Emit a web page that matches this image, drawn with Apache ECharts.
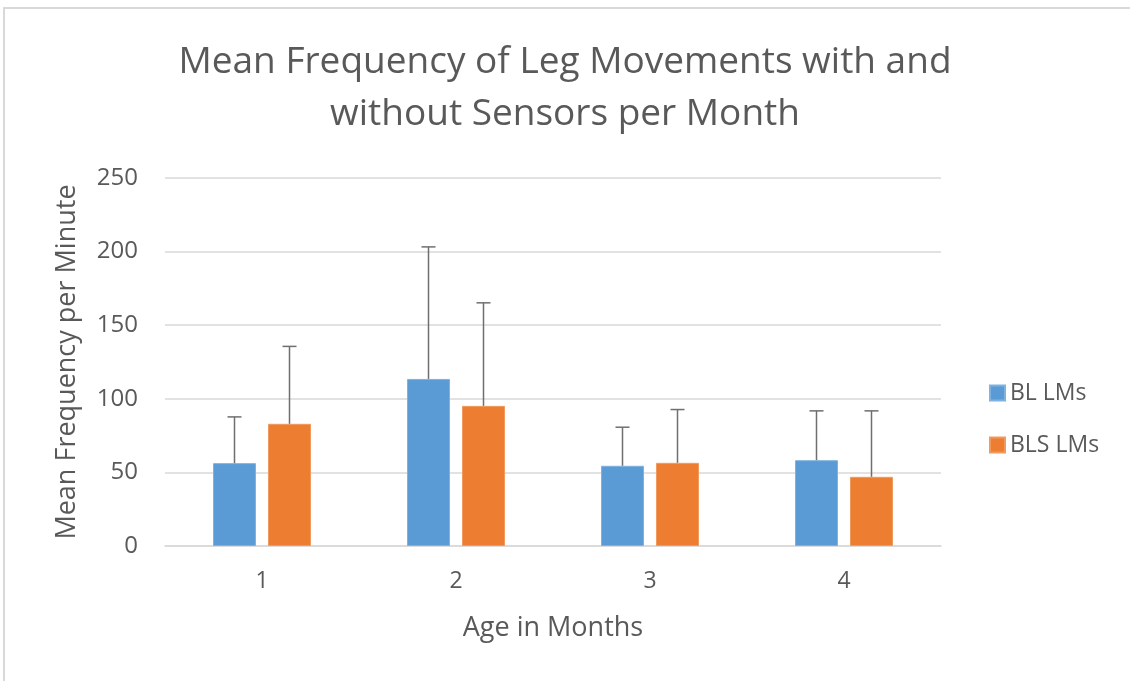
<!DOCTYPE html>
<html>
<head>
<meta charset="utf-8">
<script src="https://cdn.jsdelivr.net/npm/echarts@6/dist/echarts.min.js"></script>
<style>
html, body { margin: 0; padding: 0; background: #fff; }
#main { width: 1130px; height: 681px; }
</style>
</head>
<body>
<div id="main"></div>
<script>
var months = ['1', '2', '3', '4'];
var blMeans = [56.3, 113.5, 54.5, 58.3];
var blErr = [31.4, 89.7, 26.2, 33.5];
var blsMeans = [83.0, 95.2, 56.5, 47.0];
var blsErr = [52.6, 70.0, 36.2, 44.8];
var yTicks = [0, 250, 50];

var font = "'Open Sans', sans-serif";
var textGrey = '#595959';
var barW = 43;
var barGapPx = 12;

var myChart = echarts.init(document.getElementById('main'));

// error bar (upper only), shifted to sit over its bar
function errorBar(means, errs, shift) {
	return {
		type: 'custom',
		silent: true,
		z: 5,
		data: means.map(function (m, i) { return [i, m, m + errs[i]]; }),
		renderItem: function (params, api) {
			var base = api.coord([api.value(0), api.value(1)]);
			var top = api.coord([api.value(0), api.value(2)]);
			var x = base[0] + shift;
			var half = 7;
			return {
				type: 'group',
				children: [{
					type: 'line',
					shape: { x1: x, y1: base[1], x2: x, y2: top[1] },
					style: { stroke: '#6f6f6f', lineWidth: 1.5 }
				}, {
					type: 'line',
					shape: { x1: x - half, y1: top[1], x2: x + half, y2: top[1] },
					style: { stroke: '#6f6f6f', lineWidth: 1.5 }
				}]
			};
		}
	};
}

var shift = (barW + barGapPx) / 2;

var option = {
	animation: false,
	backgroundColor: '#fff',
	textStyle: { fontFamily: font },
	graphic: [{
		type: 'rect',
		shape: { x: 4, y: 8, width: 1200, height: 700 },
		style: { fill: 'none', stroke: '#d9d9d9', lineWidth: 2 },
		silent: true
	}],
	title: {
		text: 'Mean Frequency of Leg Movements with and\nwithout Sensors per Month',
		left: 'center',
		top: 31,
		textStyle: {
			color: textGrey,
			fontSize: 37,
			fontWeight: 'normal',
			fontFamily: font,
			lineHeight: 52
		}
	},
	legend: {
		orient: 'vertical',
		left: 984,
		top: 376,
		itemWidth: 15,
		itemHeight: 15,
		itemGap: 28,
		icon: 'rect',
		data: ['BL LMs', 'BLS LMs'],
		textStyle: { color: textGrey, fontSize: 23, lineHeight: 24, fontFamily: font }
	},
	grid: {
		left: 165,
		right: 189,
		top: 178,
		bottom: 135,
		containLabel: false
	},
	xAxis: {
		type: 'category',
		data: months,
		name: 'Age in Months',
		nameLocation: 'middle',
		nameGap: 69,
		nameTextStyle: { color: textGrey, fontSize: 27, fontFamily: font },
		axisLine: { lineStyle: { color: '#d9d9d9', width: 1.5 } },
		axisTick: { show: false },
		axisLabel: { color: textGrey, fontSize: 23, margin: 24, fontFamily: font }
	},
	yAxis: {
		type: 'value',
		min: yTicks[0],
		max: yTicks[1],
		interval: yTicks[2],
		name: 'Mean Frequency per Minute',
		nameLocation: 'middle',
		nameGap: 84,
		nameTextStyle: { color: textGrey, fontSize: 27, fontFamily: font },
		axisLine: { show: false },
		axisTick: { show: false },
		axisLabel: { color: textGrey, fontSize: 24, margin: 27, fontFamily: font },
		splitLine: { lineStyle: { color: '#d9d9d9', width: 1.5 } }
	},
	series: [{
		name: 'BL LMs',
		type: 'bar',
		data: blMeans,
		barWidth: barW,
		barGap: (barGapPx / barW * 100).toFixed(1) + '%',
		itemStyle: { color: '#5b9bd5', borderColor: '#7eb2e0', borderWidth: 1 }
	}, {
		name: 'BLS LMs',
		type: 'bar',
		data: blsMeans,
		barWidth: barW,
		itemStyle: { color: '#ed7d31', borderColor: '#f29a5e', borderWidth: 1 }
	},
	errorBar(blMeans, blErr, -shift),
	errorBar(blsMeans, blsErr, shift)
	]
};

myChart.setOption(option);
</script>
</body>
</html>
